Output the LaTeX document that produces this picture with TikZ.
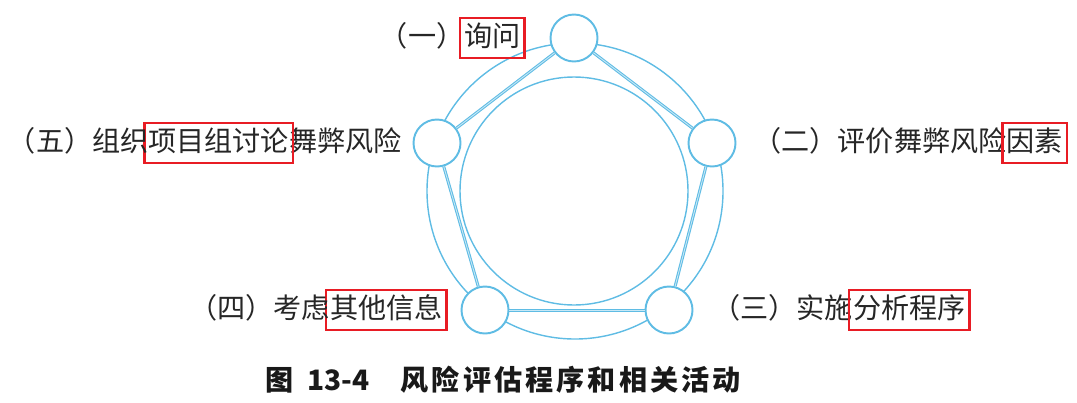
\documentclass[tikz,border=0pt]{standalone}
\usepackage{fontspec}
\newfontfamily\cjk{Noto Sans CJK SC}
\usepackage{tikz}
\usetikzlibrary{positioning}
\definecolor{ringblue}{RGB}{95,188,228}
\definecolor{markred}{RGB}{232,28,36}

\begin{document}
\begin{tikzpicture}[
        stage/.style={circle, draw=ringblue, line width=1.1pt, fill=white, minimum size=0.94cm, inner sep=0pt},
        link/.style={draw=ringblue, line width=0.6pt, double=ringblue!35, double distance=0.5pt},
        orbit/.style={draw=ringblue, line width=0.8pt},
        stagetext/.style={font=\cjk\fontsize{16}{19}\selectfont, text=black!85, inner xsep=0pt, inner ysep=0pt, outer sep=0pt, text height=0.45cm, text depth=0.1cm},
        redbox/.style={stagetext, draw=markred, line width=1.3pt, inner xsep=0.08cm, inner ysep=0.125cm}
    ]
        \useasboundingbox (0,0) rectangle (21.54,8.04);
        \draw[orbit] (11.50,4.22) circle (2.96);
        \draw[orbit] (11.48,4.22) circle (2.28);
        \foreach \name/\x/\y in {
                c1/11.48/7.28,
                c2/14.24/5.18,
                c3/13.38/1.84,
                c4/9.70/1.84,
                c5/8.74/5.18
                } {
            \node[stage] (\name) at (\x,\y) {};
        }
        \foreach \a/\b in {c1/c2, c2/c3, c3/c4, c4/c5, c5/c1} {
            \draw[link] (\a) -- (\b);
        }
        % labels
        \node[redbox, left=0.5cm of c1] (q1) {询问};
        \node[stagetext, left=-0.08cm of q1] (p1) {（一）};
        \node[stagetext, right=0.34cm of c2] (p2) {（二）评价舞弊风险};
        \node[redbox, right=-0.08cm of p2] (q2) {因素};
        \node[stagetext, right=0.38cm of c3] (p3) {（三）实施};
        \node[redbox, right=-0.08cm of p3] (q3) {分析程序};
        \node[redbox, left=0.28cm of c4] (q4) {其他信息};
        \node[stagetext, left=-0.08cm of q4] (p4) {（四）考虑};
        \node[stagetext, left=0.22cm of c5] (s5) {舞弊风险};
        \node[redbox, left=-0.08cm of s5] (q5) {项目组讨论};
        \node[stagetext, left=-0.08cm of q5] (p5) {（五）组织};
        % caption
        \node[font=\cjk\bfseries\fontsize{16}{19}\selectfont, text=black!90, anchor=west, inner sep=0pt] (cap) at (5.30,0.44) {图\hspace{0.28cm}13-4\hspace{0.62cm}{\addfontfeature{LetterSpace=11}风险评估程序和相关活动}};
    \end{tikzpicture}
\end{document}
